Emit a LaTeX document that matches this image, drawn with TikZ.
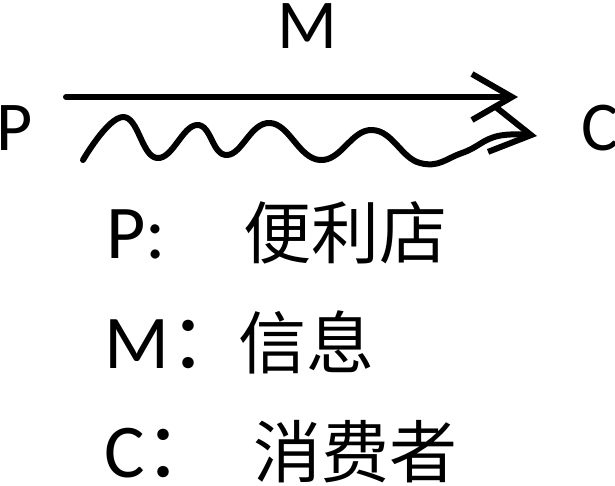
\documentclass[tikz,border=0pt]{standalone}
\usepackage{fontspec}
\setmainfont{Carlito}
\newfontfamily\cjk{Noto Sans CJK SC}
\usetikzlibrary{arrows.meta}
\begin{document}
\begin{tikzpicture}[x=1pt,y=-1pt,
  lat/.style={inner sep=0pt,font=\fontsize{70}{70}\selectfont},
  leg/.style={inner sep=0pt,font=\fontsize{76}{76}\selectfont},
  zh/.style={inner sep=0pt,font=\cjk\fontsize{68}{68}\selectfont},
  flow/.style={line width=6pt,line cap=round,line join=round,
    -{Straight Barb[length=40pt,width=46pt,line width=6pt]}}]
\useasboundingbox (0,0) rectangle (615,485);
% big letters
\node[lat,anchor=base] (M) at (307,48) {M};
\node[lat,anchor=base west] (P) at (-4,150) {P};
\node[lat,anchor=base east] (C) at (619,150) {C};
% straight arrow
\coordinate (s1) at (66,97);
\coordinate (e1) at (518,97);
\draw[flow] (s1) -- (e1);
% wavy arrow
\coordinate (s2) at (83,160);
\coordinate (e2) at (537,136);
\draw[flow] plot[smooth,tension=0.75] coordinates {(s2) (123,117) (157,158) (197,125) (227,155) (270,123) (320,160) (372,130) (420,163) (462,153) (498,136) (e2)};
% legend
\node[leg,anchor=base west] (lp) at (106,258) {P:};
\node[zh,anchor=base west] (tp) at (243,258) {便利店};
\node[leg,anchor=base west] (lm) at (104,368) {M{\cjk ：}};
\node[zh,anchor=base west] (tm) at (238,368) {信息};
\node[leg,anchor=base west] (lc) at (104,477) {C{\cjk ：}};
\node[zh,anchor=base west] (tc) at (253,477) {消费者};
\end{tikzpicture}
\end{document}
